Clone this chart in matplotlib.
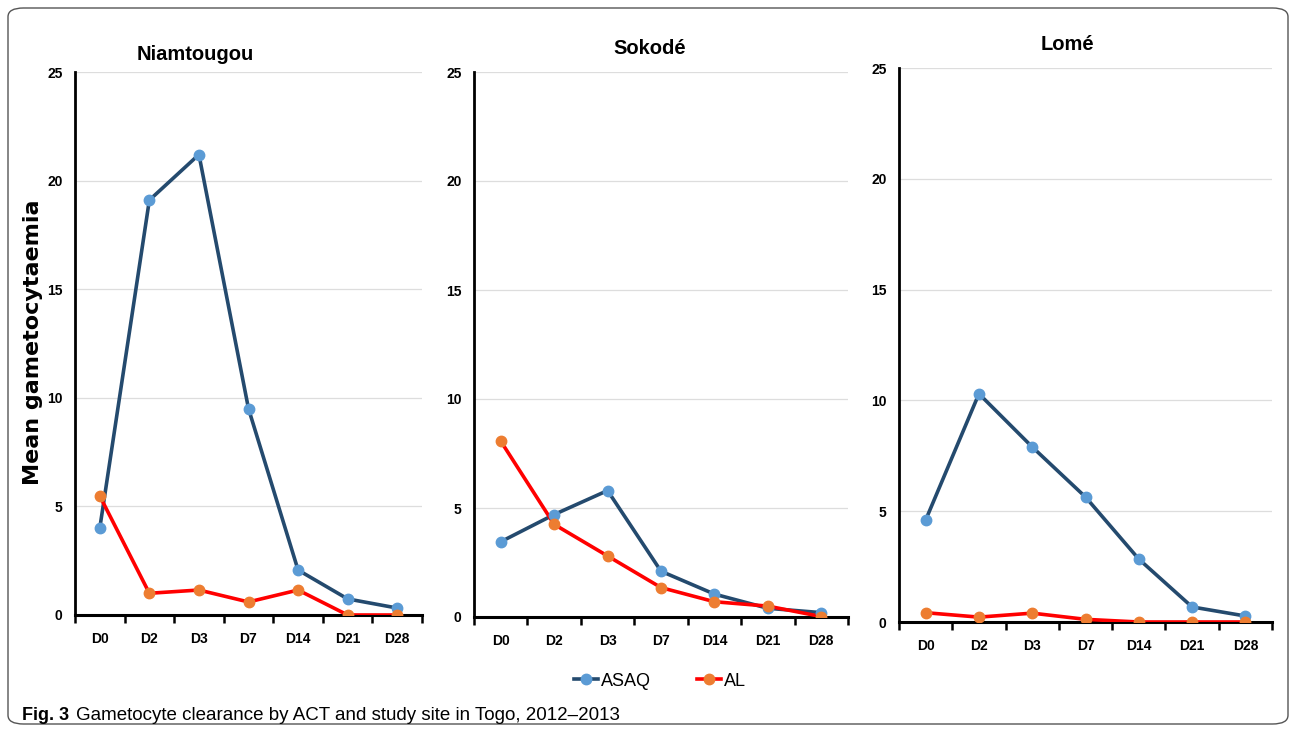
import matplotlib
matplotlib.use('Agg')
import matplotlib.pyplot as plt
from matplotlib.patches import FancyBboxPatch
from matplotlib.lines import Line2D

plt.rcParams['font.family'] = ['Liberation Sans', 'DejaVu Sans']

days = ['D0', 'D2', 'D3', 'D7', 'D14', 'D21', 'D28']
sites = ['Niamtougou', 'Sokodé', 'Lomé']

asaq_niamtougou = [4.0, 19.1, 21.2, 9.5, 2.07, 0.74, 0.32]
al_niamtougou = [5.48, 1.0, 1.15, 0.6, 1.15, 0.0, 0.0]
asaq_sokode = [3.45, 4.7, 5.8, 2.1, 1.05, 0.4, 0.2]
al_sokode = [8.07, 4.25, 2.8, 1.35, 0.7, 0.5, 0.02]
asaq_lome = [4.6, 10.3, 7.9, 5.64, 2.84, 0.68, 0.27]
al_lome = [0.42, 0.22, 0.4, 0.12, 0.0, 0.0, 0.0]

asaq = [asaq_niamtougou, asaq_sokode, asaq_lome]
al = [al_niamtougou, al_sokode, al_lome]

ASAQ_LINE = '#244a6e'
ASAQ_MARK = '#5b9bd5'
AL_LINE = '#ff0000'
AL_MARK = '#ed7d31'

W, H = 1292, 732
fig = plt.figure(figsize=(W / 100, H / 100), dpi=100)

# panel boxes in pixels: left, right, top(25), bottom(0)
boxes = [(75, 422, 72, 615), (474, 848, 72, 617), (899, 1272, 68, 622)]
title_pos = [(195, 55), (650, 48), (1067, 44)]

border = FancyBboxPatch((8 / W, 8 / H), 1280 / W, 716 / H, transform=fig.transFigure,
                        boxstyle='round,pad=0,rounding_size=0.012', fc='white',
                        ec='#555555', lw=1.0, zorder=-10)
fig.patches.append(border)

x = list(range(len(days)))
for i, (l, r, t, b) in enumerate(boxes):
    ax = fig.add_axes([l / W, 1 - b / H, (r - l) / W, (b - t) / H])
    ax.plot(x, asaq[i], '-', color=ASAQ_LINE, lw=2.6, zorder=3)
    ax.plot(x, asaq[i], 'o', color=ASAQ_MARK, ms=7.5, zorder=4)
    ax.plot(x, al[i], '-', color=AL_LINE, lw=2.6, zorder=3)
    ax.plot(x, al[i], 'o', color=AL_MARK, ms=7.5, zorder=4)
    ax.set_xlim(-0.5, len(days) - 0.5)
    ax.set_ylim(0, 25)
    ax.set_yticks([0, 5, 10, 15, 20, 25])
    ax.set_xticks(x)
    ax.set_xticklabels(days)
    ax.set_xticks([k - 0.5 for k in range(len(days) + 1)], minor=True)
    ax.tick_params(axis='x', which='major', length=0, pad=12, labelsize=10)
    ax.tick_params(axis='x', which='minor', length=6, width=1.8, direction='out')
    ax.tick_params(axis='y', length=0, pad=9, labelsize=10)
    for lab in ax.get_xticklabels() + ax.get_yticklabels():
        lab.set_fontweight('bold')
    ax.grid(axis='y', color='#dddddd', lw=0.9)
    ax.set_axisbelow(True)
    for s in ['top', 'right']:
        ax.spines[s].set_visible(False)
    ax.spines['left'].set_linewidth(2)
    ax.spines['bottom'].set_linewidth(2.2)
    ax.patch.set_alpha(0)
    cx, cy = title_pos[i]
    fig.text(cx / W, 1 - cy / H, sites[i], ha='center', va='center',
             fontsize=14.5, fontweight='bold')

fig.text(33 / W, 1 - 342 / H, 'Mean gametocytaemia', rotation=90, ha='center', va='center',
         fontsize=16, fontweight='bold', family=['DejaVu Sans'])

handles = [Line2D([], [], color=ASAQ_LINE, lw=2.6, marker='o', ms=7.5,
                  markerfacecolor=ASAQ_MARK, markeredgecolor=ASAQ_MARK),
           Line2D([], [], color=AL_LINE, lw=2.6, marker='o', ms=7.5,
                  markerfacecolor=AL_MARK, markeredgecolor=AL_MARK)]
fig.legend(handles, ['ASAQ', 'AL'], loc='center', bbox_to_anchor=(660 / W, 1 - 681 / H),
           ncol=2, frameon=False, fontsize=13, handlelength=1.3, handletextpad=0.15,
           columnspacing=2.6)

t1 = fig.text(22 / W, 1 - 716 / H, 'Fig. 3', ha='left', va='center', fontsize=13,
              fontweight='bold')
fig.canvas.draw()
bb = t1.get_window_extent()
fig.text((bb.x1 + 7) / W, 1 - 716 / H, 'Gametocyte clearance by ACT and study site in Togo, 2012\u20132013',
         ha='left', va='center', fontsize=13.5)

fig.savefig('out.png', dpi=100)
